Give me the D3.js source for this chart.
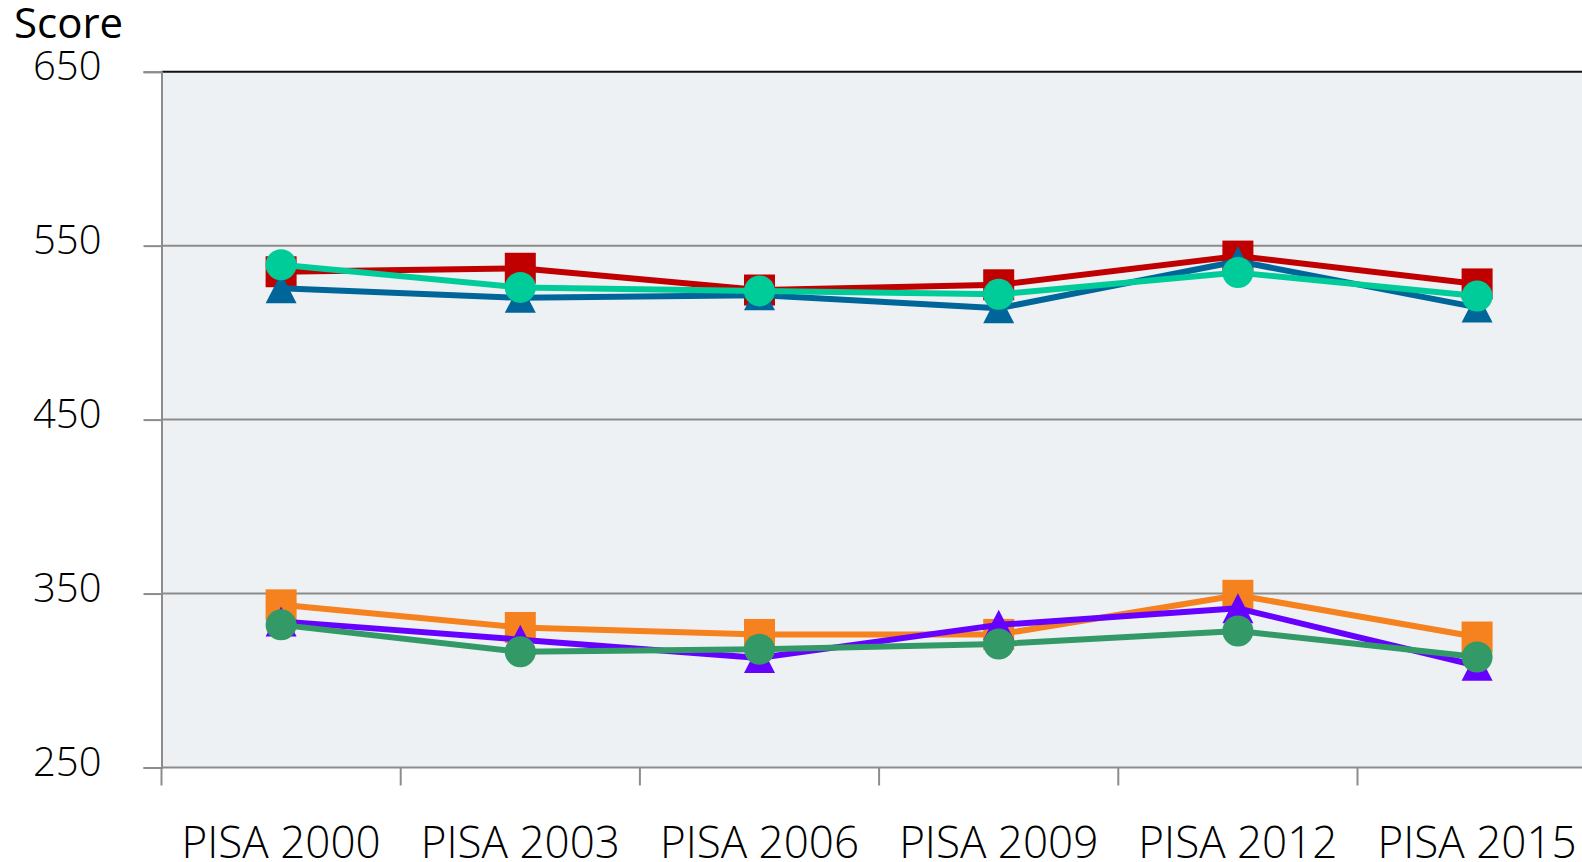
<!DOCTYPE html>
<html>
<head>
  <script src="https://d3js.org/d3.v7.min.js"></script>
  <style>
    body { margin: 0; background: #fff; overflow: hidden; }
    svg { display: block; }
    text { font-family: "Open Sans", "Noto Sans", sans-serif; font-weight: 300; fill: #000; }
    .line { fill: none; stroke-width: 6; stroke-linejoin: round; }
  </style>
</head>
<body>
  <svg width="1582" height="862"></svg>
  <script>
    // PISA waves and scores
    var waves = ["PISA 2000", "PISA 2003", "PISA 2006", "PISA 2009", "PISA 2012", "PISA 2015"];
    var yTicks = [250, 350, 450, 550, 650];

    var redSquares    = [535, 537, 524.5, 527.5, 544, 528];
    var blueTriangles = [525.5, 520, 521.5, 514, 541, 514.5];
    var tealCircles   = [539, 526, 524, 522, 534.5, 521];

    var orangeSquares   = [343.5, 330.5, 326.5, 326.5, 349, 325];
    var purpleTriangles = [334, 323.5, 313, 332, 341.5, 308.5];
    var greenCircles    = [332, 316.5, 318, 321, 328.5, 313.5];

    var series = [
      { values: redSquares, color: "#c00000", shape: "square" },
      { values: blueTriangles, color: "#00669a", shape: "triangle" },
      { values: tealCircles, color: "#00cc99", shape: "circle" },
      { values: orangeSquares, color: "#f5821f", shape: "square" },
      { values: purpleTriangles, color: "#6600ff", shape: "triangle" },
      { values: greenCircles, color: "#339966", shape: "circle" }
    ];

    var plotLeft = 161.5, plotTop = 71.7, plotBottom = 767.5, band = 239.2;
    var plotRight = plotLeft + band * waves.length;

    var svg = d3.select("svg");
    var x = d3.scaleBand().domain(waves).range([plotLeft, plotRight]);
    var y = d3.scaleLinear().domain([250, 650]).range([plotBottom, plotTop]);

    // plot background
    svg.append("rect")
      .attr("x", plotLeft).attr("y", plotTop)
      .attr("width", plotRight - plotLeft).attr("height", plotBottom - plotTop)
      .attr("fill", "#edf1f4");

    // gridlines
    svg.selectAll(".grid")
      .data(yTicks.slice(1, -1))
      .enter().append("line")
      .attr("x1", plotLeft).attr("x2", plotRight)
      .attr("y1", function(d) { return y(d); })
      .attr("y2", function(d) { return y(d); })
      .attr("stroke", "#8c8c8c").attr("stroke-width", 2);

    // top border
    svg.append("line")
      .attr("x1", plotLeft).attr("x2", plotRight)
      .attr("y1", plotTop).attr("y2", plotTop)
      .attr("stroke", "#111").attr("stroke-width", 2);

    // y axis
    var yAxis = svg.append("g")
      .attr("transform", "translate(" + plotLeft + ",0)")
      .call(d3.axisLeft(y).tickValues(yTicks).tickSize(18).tickPadding(42));
    yAxis.select(".domain").attr("stroke", "#8c8c8c").attr("stroke-width", 2);
    yAxis.selectAll(".tick line").attr("stroke", "#8c8c8c").attr("stroke-width", 2);
    yAxis.selectAll(".tick text")
      .attr("font-size", 40).attr("dy", "0.2em")
      .attr("fill", "#000")
      .style("font-family", "'Open Sans', 'Noto Sans', sans-serif");

    // x axis with ticks on band edges
    var xAxisG = svg.append("g");
    xAxisG.append("line")
      .attr("x1", plotLeft).attr("x2", plotRight)
      .attr("y1", plotBottom).attr("y2", plotBottom)
      .attr("stroke", "#8c8c8c").attr("stroke-width", 2);
    xAxisG.selectAll(".xtick")
      .data(waves)
      .enter().append("line")
      .attr("x1", function(d) { return x(d); })
      .attr("x2", function(d) { return x(d); })
      .attr("y1", plotBottom).attr("y2", plotBottom + 18)
      .attr("stroke", "#8c8c8c").attr("stroke-width", 2);
    xAxisG.selectAll(".xlabel")
      .data(waves)
      .enter().append("text")
      .attr("x", function(d) { return x(d) + x.bandwidth() / 2; })
      .attr("y", 858)
      .attr("text-anchor", "middle")
      .attr("font-size", 44)
      .text(function(d) { return d; });

    // axis title
    svg.append("text")
      .attr("x", 14).attr("y", 38)
      .attr("font-size", 42)
      .style("font-weight", 400)
      .text("Score");

    // lines and markers
    var line = d3.line()
      .x(function(d, i) { return x(waves[i]) + x.bandwidth() / 2; })
      .y(function(d) { return y(d); });

    var s = 31;
    series.forEach(function(ser) {
      var g = svg.append("g");
      g.append("path")
        .attr("class", "line")
        .attr("d", line(ser.values))
        .attr("stroke", ser.color);
      var pts = g.selectAll(".pt")
        .data(ser.values)
        .enter();
      var cx = function(d, i) { return x(waves[i]) + x.bandwidth() / 2; };
      if (ser.shape === "square") {
        pts.append("rect")
          .attr("x", function(d, i) { return cx(d, i) - s / 2; })
          .attr("y", function(d) { return y(d) - s / 2; })
          .attr("width", s).attr("height", s)
          .attr("fill", ser.color);
      } else if (ser.shape === "circle") {
        pts.append("circle")
          .attr("cx", cx)
          .attr("cy", function(d) { return y(d); })
          .attr("r", s / 2)
          .attr("fill", ser.color);
      } else {
        pts.append("path")
          .attr("d", function(d, i) {
            var px = cx(d, i), py = y(d);
            return "M" + px + "," + (py - 15) +
              "L" + (px + s / 2) + "," + (py + 15) +
              "L" + (px - s / 2) + "," + (py + 15) + "Z";
          })
          .attr("fill", ser.color);
      }
    });
  </script>
</body>
</html>
